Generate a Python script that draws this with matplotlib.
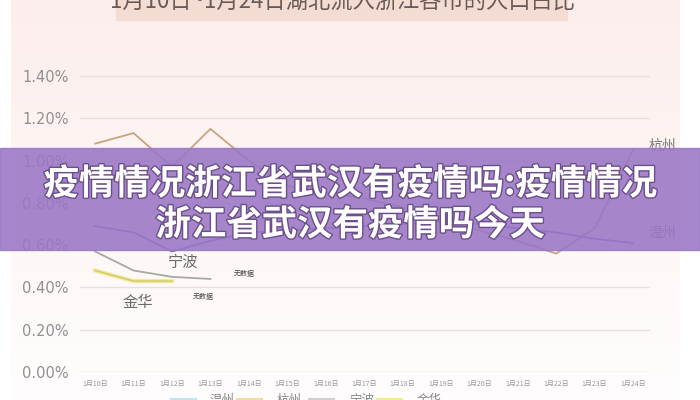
import matplotlib.pyplot as plt
import matplotlib.patheffects as pe
import numpy as np

plt.rcParams['font.family'] = ['Noto Sans CJK SC', 'DejaVu Sans']

days = ['1月%d日' % d for d in range(10, 25)]
hangzhou = [1.08, 1.13, 0.97, 1.15, 1.00, 0.88, 0.85, 0.82, 0.78, 0.72, 0.67, 0.62, 0.56, 0.68, 1.05]
wenzhou = [0.69, 0.66, 0.57, 0.62, 0.66, 0.67, 0.68, 0.69, 0.70, 0.71, 0.70, 0.68, 0.66, 0.63, 0.61]
ningbo = [0.57, 0.48, 0.45, 0.44]
jinhua = [0.48, 0.43, 0.43]
yticks = [0.0, 0.2, 0.4, 0.6, 0.8, 1.0, 1.2, 1.4]

fig = plt.figure(figsize=(7, 4), dpi=100)

# pink-to-white background of the screenshot
bg = fig.add_axes([0, 0, 1, 1], zorder=0)
grad = np.linspace(0, 1, 256).reshape(-1, 1)
top = np.array([252, 238, 236]) / 255
bot = np.array([255, 253, 253]) / 255
img = top * (1 - grad[:, :, None]) + bot * grad[:, :, None]
bg.imshow(img, aspect='auto', extent=[0.015, 0.97, 0, 1])
bg.set_xlim(0, 1)
bg.set_ylim(0, 1)
bg.axis('off')

# title box, cut off at the top
bg.add_patch(plt.Rectangle((0.165, 0.95), 0.645, 0.06, color='#f5dcd3', zorder=2))
bg.text(0.49, 0.998, '1月10日~1月24日湖北流入浙江各市的人口占比', ha='center', va='center',
        fontsize=16, color='#6a5a58', zorder=3)

ax = fig.add_axes([0.114, 0.07, 0.815, 0.74], zorder=1)
ax.patch.set_alpha(0)
x = np.arange(len(days))
ax.plot(x, hangzhou, color='#c9a27e', lw=1.3)
ax.plot(x, wenzhou, color='#7d72b8', lw=1.3)
ax.plot(x[:len(ningbo)], ningbo, color='#a8a8a8', lw=1.3)
ax.plot(x[:len(jinhua)], jinhua, color='#e8e06a', lw=3, alpha=0.6)
ax.plot(x[:len(jinhua)], jinhua, color='#d6c760', lw=1)

ax.set_ylim(0, 1.4)
ax.set_xlim(-0.4, 14.45)
ax.set_yticks(yticks)
ax.set_yticklabels(['%.2f%%' % v for v in yticks], fontsize=10.5, color='#909090',
                   family=['DejaVu Sans'])
ax.set_xticks(x)
ax.set_xticklabels(days, fontsize=5, color='#999999')
ax.tick_params(length=0, pad=8)
ax.tick_params(axis='x', pad=6)
ax.grid(axis='y', color='#e6e0e0', lw=1)
for s in ax.spines.values():
    s.set_visible(False)

ax.text(14.4, 1.07, '杭州', fontsize=10, color='#7a7a7a', va='center')
ax.text(14.4, 0.66, '温州', fontsize=10, color='#7a7a7a', va='center')
ax.text(2.3, 0.52, '宁波', fontsize=11, color='#6a6a6a', ha='center', va='center')
ax.text(1.1, 0.33, '金华', fontsize=11, color='#6a6a6a', ha='center', va='center')
ax.text(3.6, 0.465, '无数据', fontsize=5, color='#444444', va='center')
ax.text(2.55, 0.355, '无数据', fontsize=5, color='#444444', va='center')

# legend, cut off at the bottom
leg_names = ['温州', '杭州', '宁波', '金华']
leg_colors = ['#bfe8ee', '#f0e0a0', '#d0d0d0', '#f0ec90']
leg_x = [0.30, 0.395, 0.498, 0.595]
for name, c, lx in zip(leg_names, leg_colors, leg_x):
    bg.plot([lx - 0.055, lx - 0.022], [0.0, 0.0], color=c, lw=3)
    bg.text(lx, -0.002, name, fontsize=9, color='#888888', va='center')

# purple banner over the chart
bn = fig.add_axes([0, 0, 1, 1], zorder=5)
bn.set_xlim(0, 1)
bn.set_ylim(0, 1)
bn.axis('off')
bn.add_patch(plt.Rectangle((0, 0.375), 1, 0.255, color='#9a76c6', alpha=0.88))
shadow = [pe.withStroke(linewidth=2, foreground='#6b4f8a')]
bn.text(0.5, 0.54, '疫情情况浙江省武汉有疫情吗:疫情情况', ha='center', va='center',
        fontsize=25.5, color='white', fontweight='black', path_effects=shadow)
bn.text(0.5, 0.438, '浙江省武汉有疫情吗今天', ha='center', va='center',
        fontsize=25.5, color='white', fontweight='black', path_effects=shadow)

fig.savefig('out.png', dpi=100)
